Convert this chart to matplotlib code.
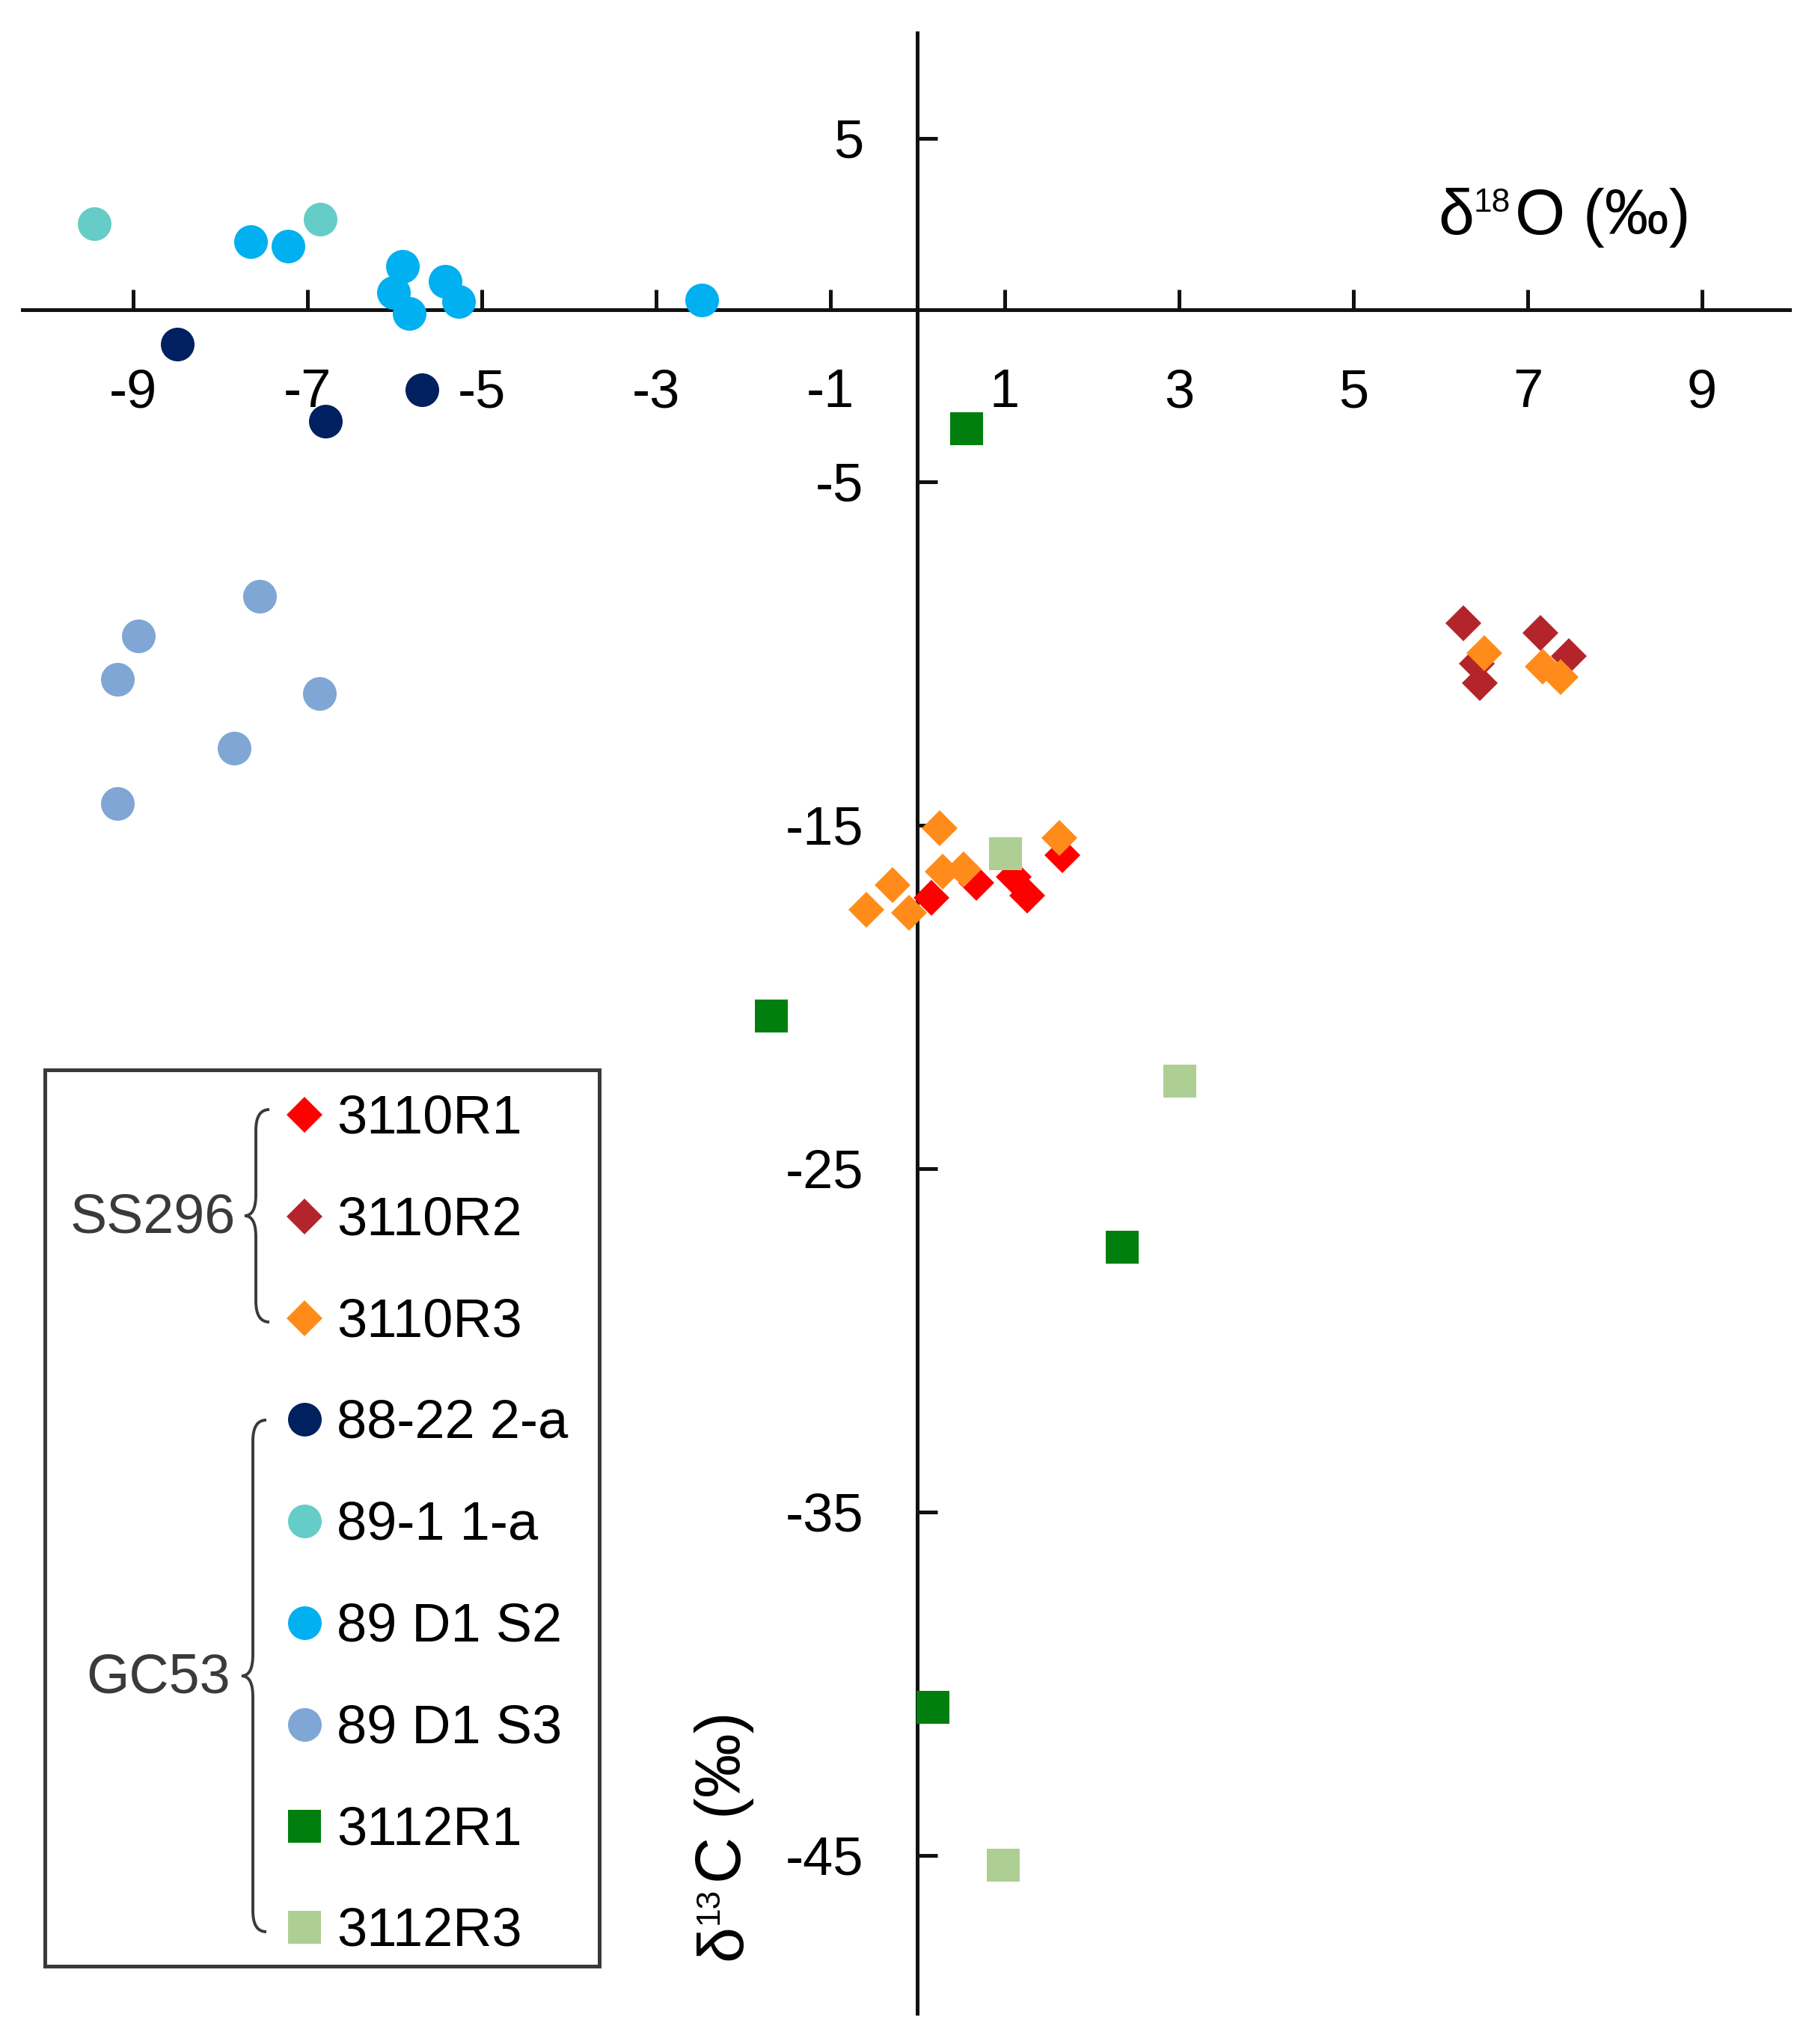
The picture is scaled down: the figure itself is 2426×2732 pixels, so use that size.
import matplotlib
matplotlib.use("Agg")
import matplotlib.pyplot as plt
from matplotlib.path import Path
from matplotlib.patches import PathPatch, Rectangle

plt.rcParams['font.family'] = ['Liberation Sans', 'DejaVu Sans']

# ---- data (delta18O, delta13C, per mil) ----
names = ['3110R1', '3110R2', '3110R3', '88-22 2-a', '89-1 1-a',
         '89 D1 S2', '89 D1 S3', '3112R1', '3112R3']
colors = ['#FF0000', '#B3252A', '#FF8C1A', '#00205F', '#66CCC8',
          '#00B0F0', '#7FA6D4', '#007F0E', '#AECF94']
markers = ['D', 'D', 'D', 'o', 'o', 'o', 'o', 's', 's']

r1_x = [0.16, 0.67, 1.10, 1.26, 1.66]
r1_y = [-17.12, -16.68, -16.50, -17.05, -15.88]
r2_x = [6.26, 6.42, 6.45, 7.15, 7.47]
r2_y = [-9.12, -10.29, -10.87, -9.41, -10.07]
r3_x = [0.25, -0.29, -0.59, -0.10, 0.29, 0.53, 1.63, 6.50, 7.17, 7.38]
r3_y = [-15.08, -16.75, -17.46, -17.55, -16.35, -16.28, -15.37, -10.0, -10.38, -10.70]
a88_x = [-8.49, -5.69, -6.79]
a88_y = [-1.00, -2.32, -3.25]
a89_x = [-9.45, -6.85]
a89_y = [2.51, 2.64]
s2_x = [-7.65, -7.22, -5.91, -6.01, -5.83, -5.42, -5.27, -2.48]
s2_y = [2.00, 1.85, 1.27, 0.51, -0.11, 0.84, 0.25, 0.28]
s3_x = [-7.55, -8.94, -9.18, -6.86, -7.84, -9.18]
s3_y = [-8.33, -9.49, -10.76, -11.18, -12.76, -14.37]
g1_x = [0.56, -1.68, 2.35, 0.18]
g1_y = [-3.45, -20.55, -27.30, -40.70]
g3_x = [1.01, 3.01, 0.98]
g3_y = [-15.83, -22.45, -45.29]

xs = [r1_x, r2_x, r3_x, a88_x, a89_x, s2_x, s3_x, g1_x, g3_x]
ys = [r1_y, r2_y, r3_y, a88_y, a89_y, s2_y, s3_y, g1_y, g3_y]

xticks = [-9, -7, -5, -3, -1, 1, 3, 5, 7, 9]
yticks = [5, -5, -15, -25, -35, -45]

W, H = 2426, 2732
fig = plt.figure(figsize=(W / 200, H / 200), dpi=200)

ax = fig.add_axes([30 / W, 1 - 2691 / H, 2361.5 / W, 2647.1 / H])
ax.set_xlim(-10.27, 10.0)
ax.set_ylim(-49.6, 8.07)

msize = {'D': 12.2, 'o': 16.2, 's': 16.0}
order = [0, 2, 1, 3, 4, 5, 6, 7, 8]
for i in order:
    ax.plot(xs[i], ys[i], ls='none', marker=markers[i], ms=msize[markers[i]],
            color=colors[i], mew=0, zorder=3 + i * 0.1, clip_on=False)

for s in ['top', 'right']:
    ax.spines[s].set_visible(False)
ax.spines['left'].set_position(('data', 0))
ax.spines['bottom'].set_position(('data', 0))
for s in ['left', 'bottom']:
    ax.spines[s].set_linewidth(1.8)
    ax.spines[s].set_color('#111111')
ax.set_xticks(xticks)
ax.set_yticks(yticks)
ax.set_xticklabels([str(t) for t in xticks])
ax.set_yticklabels([str(t) for t in yticks])
ax.tick_params(axis='both', direction='in', length=9.7, width=1.8,
               labelsize=26, color='#111111')
ax.tick_params(axis='x', pad=28)
ax.tick_params(axis='y', pad=26)
ax.patch.set_visible(False)

# axis titles: delta, small raised mass number, rest
lab_fs, sup_fs = 31, 16
t1 = fig.text(1922 / W, 1 - 313 / H, 'δ', fontsize=lab_fs,
              ha='left', va='baseline')
t2 = fig.add_artist(plt.Annotation('18', xy=(1.0, 1.0), xycoords=t1,
                                   fontsize=sup_fs, ha='left', va='top'))
fig.add_artist(plt.Annotation('O (‰)', xy=(1.0, 0), xycoords=(t2, t1),
                              xytext=(2, 0), textcoords='offset points',
                              fontsize=lab_fs, ha='left', va='bottom'))

u1 = fig.text(990 / W, 1 - 2620 / H, 'δ', fontsize=lab_fs, rotation=90,
              rotation_mode='anchor', ha='left', va='baseline')
u2 = fig.add_artist(plt.Annotation('13', xy=(0.0, 1.0), xycoords=u1,
                                   fontsize=sup_fs, rotation=90,
                                   rotation_mode='anchor', ha='left', va='top'))
fig.add_artist(plt.Annotation('C (‰)', xy=(1.0, 1.0), xycoords=(u1, u2),
                              xytext=(0, 2), textcoords='offset points',
                              fontsize=lab_fs, rotation=90,
                              rotation_mode='anchor', ha='left', va='bottom'))

# ---- legend drawn in pixel space ----
lax = fig.add_axes([0, 0, 1, 1], zorder=5)
lax.set_xlim(0, W)
lax.set_ylim(H, 0)
lax.axis('off')

lax.add_patch(Rectangle((60, 1430), 741, 1198, fill=False,
                        ec='#3a3a3a', lw=1.8))

row_y = [1490 + 135.8 * k for k in range(len(names))]
for k in range(len(names)):
    lax.plot([407], [row_y[k]], ls='none', marker=markers[k],
             ms=msize[markers[k]], color=colors[k], mew=0)
    lax.text(450, row_y[k] + 6, names[k], fontsize=26, ha='left', va='center')


def brace(x, y0, y1, tip=15, hook=18, r=28):
    ym = (y0 + y1) / 2
    verts = [(x + hook, y0), (x, y0), (x, y0 + r),
             (x, ym - r), (x, ym), (x - tip, ym),
             (x, ym), (x, ym + r),
             (x, y1 - r), (x, y1), (x + hook, y1)]
    codes = [Path.MOVETO, Path.CURVE3, Path.CURVE3,
             Path.LINETO, Path.CURVE3, Path.CURVE3,
             Path.CURVE3, Path.CURVE3,
             Path.LINETO, Path.CURVE3, Path.CURVE3]
    lax.add_patch(PathPatch(Path(verts, codes), fill=False,
                            ec='#3a3a3a', lw=1.4))


brace(342, 1483, 1767)
brace(338, 1898, 2582)
lax.text(315, 1628, 'SS296', fontsize=26.5, ha='right', va='center',
         color='#3a3a3a')
lax.text(308, 2243, 'GC53', fontsize=26.5, ha='right', va='center',
         color='#3a3a3a')

fig.savefig('out.png', dpi=200, facecolor='white')
